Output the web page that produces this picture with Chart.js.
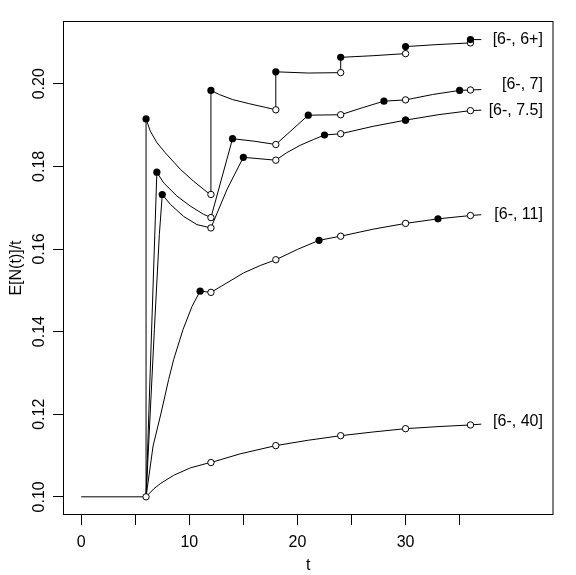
<!DOCTYPE html>
<html>
<head>
<meta charset="utf-8">
<script src="https://cdn.jsdelivr.net/npm/chart.js@4/dist/chart.umd.min.js"></script>
<style>
  body { margin: 0; background: #fff; }
  #chart { display: block; }
</style>
</head>
<body>
<canvas id="chart" width="576" height="575"></canvas>
<script>
// curves, [t, E[N(t)]/t]
var curve6p = [[6, 0.1], [6, 0.1915], [6.4, 0.1885], [7.02, 0.1857], [7.78, 0.1833], [9.17, 0.1793],
  [10.4, 0.1764], [11.63, 0.1738], [12, 0.1732], [12, 0.1984], [12.77, 0.1974], [13.98, 0.1962],
  [15.5, 0.1952], [17.02, 0.1943], [18, 0.1937], [18, 0.2029], [21, 0.2026], [24, 0.2027],
  [24, 0.2064], [27, 0.2068], [30, 0.2073], [30, 0.209], [33, 0.2095], [36, 0.2099],
  [36, 0.2107], [37, 0.2107]];
var curve7 = [[6, 0.1], [7, 0.1786], [7.63, 0.176], [8.86, 0.1728], [10.09, 0.1704], [11.32, 0.1684],
  [12, 0.1676], [14, 0.1867], [16, 0.1861], [18, 0.1853], [21, 0.1924], [24, 0.1925], [26, 0.1942],
  [28, 0.1958], [30, 0.1961], [32.5, 0.1974], [35, 0.1984], [36, 0.1985], [37, 0.1986]];
var curve75 = [[6, 0.1], [6.77, 0.1405], [7.23, 0.1635], [7.5, 0.1732], [8.25, 0.1708], [9.47, 0.1679],
  [10.71, 0.1659], [12, 0.1651], [13.5, 0.1745], [15, 0.1822], [18, 0.1815], [19, 0.1833],
  [20.25, 0.1851], [21.48, 0.1865], [22.5, 0.1876], [24, 0.1879], [27, 0.1897], [30, 0.1912],
  [33, 0.1925], [36, 0.1935], [37, 0.1936]];
var curve11 = [[6, 0.1], [6.65, 0.1123], [7.39, 0.1203], [8.09, 0.1284], [8.55, 0.1332], [9.42, 0.1405],
  [10.25, 0.1461], [11, 0.1498], [12, 0.1495], [13.48, 0.1518], [15.01, 0.1542], [16.56, 0.156],
  [18, 0.1574], [20, 0.1599], [22, 0.1621], [24, 0.1631], [27, 0.1648], [30, 0.1662], [33, 0.1673],
  [36, 0.1681], [37, 0.1683]];
var curve40 = [[0, 0.1], [6, 0.1], [6.7, 0.1019], [7.32, 0.1032], [8.55, 0.1052], [10.09, 0.107],
  [11.63, 0.1081], [12, 0.1083], [14.7, 0.1104], [18, 0.1124], [21, 0.1137], [24, 0.1148],
  [27, 0.1157], [30, 0.1165], [33, 0.117], [36, 0.1174], [37, 0.1176]];

// marked points
var filledPts = [[6, 0.1915], [12, 0.1984], [18, 0.2029], [24, 0.2064], [30, 0.209], [36, 0.2107],
  [7, 0.1786], [14, 0.1867], [21, 0.1924], [28, 0.1958], [35, 0.1984],
  [7.5, 0.1732], [15, 0.1822], [22.5, 0.1876], [30, 0.1912],
  [11, 0.1498], [22, 0.1621], [33, 0.1673]];
var openPts = [[6, 0.1],
  [12, 0.1732], [18, 0.1937], [24, 0.2027], [30, 0.2073], [36, 0.2099],
  [12, 0.1676], [18, 0.1853], [24, 0.1925], [30, 0.1961], [36, 0.1985],
  [12, 0.1651], [18, 0.1815], [24, 0.1879], [30, 0.1912], [36, 0.1935],
  [12, 0.1495], [18, 0.1574], [24, 0.1631], [30, 0.1662], [36, 0.1681],
  [12, 0.1083], [18, 0.1124], [24, 0.1148], [30, 0.1165], [36, 0.1174]];

var seriesNames = ['[6-, 6+]', '[6-, 7]', '[6-, 7.5]', '[6-, 11]', '[6-, 40]'];
var labelY = [0.2107, 0.1997, 0.1936, 0.1684, 0.1182];
var labelX = 42.7;

var xTicks = [0, 5, 10, 15, 20, 25, 30, 35];
var xTickLabels = ['0', '', '10', '', '20', '', '30', ''];
var yTicks = [0.10, 0.12, 0.14, 0.16, 0.18, 0.20];

function toXY(arr) {
  return arr.map(function (p) { return { x: p[0], y: p[1] }; });
}

Chart.defaults.font.family = '"Liberation Sans", Arial, sans-serif';
Chart.defaults.font.size = 16;
Chart.defaults.color = '#000';

var curves = [curve6p, curve7, curve75, curve11, curve40];
var datasets = curves.map(function (c, i) {
  return {
    label: seriesNames[i],
    data: toXY(c),
    showLine: true,
    borderColor: '#000',
    borderWidth: 1,
    pointRadius: 0,
    order: 2
  };
});
datasets.push({
  label: 'open',
  data: toXY(openPts),
  showLine: false,
  pointRadius: 3.2,
  pointBorderWidth: 1,
  pointBorderColor: '#000',
  pointBackgroundColor: '#fff',
  order: 1
});
datasets.push({
  label: 'filled',
  data: toXY(filledPts),
  showLine: false,
  pointRadius: 3.6,
  pointBorderWidth: 0,
  pointBackgroundColor: '#000',
  order: 0
});

var boxAndLabels = {
  id: 'boxAndLabels',
  beforeDraw: function (chart) {
    var ctx = chart.ctx;
    ctx.save();
    ctx.fillStyle = '#fff';
    ctx.fillRect(0, 0, chart.width, chart.height);
    ctx.restore();
  },
  afterDatasetsDraw: function (chart) {
    var ctx = chart.ctx, a = chart.chartArea;
    var xs = chart.scales.x, ys = chart.scales.y;
    ctx.save();
    ctx.strokeStyle = '#000';
    ctx.lineWidth = 1;
    ctx.strokeRect(a.left + 0.5, a.top + 0.5, a.right - a.left - 1, a.bottom - a.top - 1);
    ctx.fillStyle = '#000';
    ctx.font = '16px "Liberation Sans", Arial, sans-serif';
    ctx.textAlign = 'right';
    ctx.textBaseline = 'middle';
    for (var i = 0; i < seriesNames.length; i++) {
      ctx.fillText(seriesNames[i], xs.getPixelForValue(labelX), ys.getPixelForValue(labelY[i]));
    }
    ctx.restore();
  }
};

new Chart(document.getElementById('chart'), {
  type: 'scatter',
  data: { datasets: datasets },
  plugins: [boxAndLabels],
  options: {
    responsive: false,
    animation: false,
    devicePixelRatio: 1,
    layout: { padding: { top: 21, right: 22.5, left: 0, bottom: 0 } },
    plugins: { legend: { display: false }, tooltip: { enabled: false } },
    scales: {
      x: {
        type: 'linear',
        min: -1.68,
        max: 43.68,
        afterBuildTicks: function (s) { s.ticks = xTicks.map(function (v) { return { value: v }; }); },
        afterFit: function (s) { s.height = 60; },
        ticks: {
          autoSkip: false,
          maxRotation: 0,
          padding: 8,
          callback: function (v) { return xTickLabels[xTicks.indexOf(v)]; }
        },
        grid: { drawOnChartArea: false, drawTicks: true, tickLength: 10, color: '#000' },
        border: { display: false },
        title: { display: true, text: 't', padding: { top: 0, bottom: 0 } }
      },
      y: {
        type: 'linear',
        min: 0.0956,
        max: 0.2152,
        afterBuildTicks: function (s) { s.ticks = yTicks.map(function (v) { return { value: v }; }); },
        afterFit: function (s) { s.width = 63; },
        ticks: {
          autoSkip: false,
          minRotation: 90,
          maxRotation: 90,
          crossAlign: 'center',
          padding: -2,
          callback: function (v) { return v.toFixed(2); }
        },
        grid: { drawOnChartArea: false, drawTicks: true, tickLength: 10, color: '#000' },
        border: { display: false },
        title: { display: true, text: 'E[N(t)]/t', padding: { top: 7, bottom: 0 } }
      }
    }
  }
});
</script>
</body>
</html>
